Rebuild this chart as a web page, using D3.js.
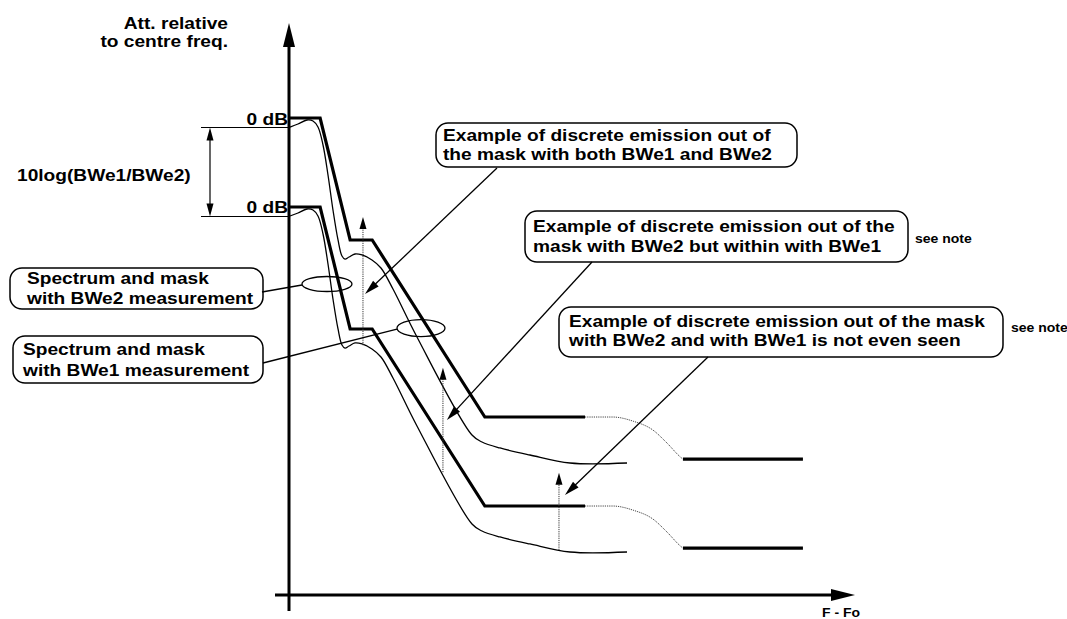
<!DOCTYPE html>
<html><head><meta charset="utf-8">
<script src="https://cdn.jsdelivr.net/npm/d3@7"></script>
<style>
html,body{margin:0;padding:0;background:#fff;}
svg text{font-family:"Liberation Sans",Arial,sans-serif;font-weight:bold;fill:#000;}
</style></head>
<body><svg id="c" width="1067" height="619"></svg>
<script>
// ---------- DATA (frequency units 0..100, attenuation in dB) ----------
const maskF  = [0, 5.5, 10.8, 14.7, 34.6, 52.3];
const maskDb = [0, 0, -20.56, -20.56, -50.4, -50.4];
const maskTransF  = [52.3, 57.2, 60.8, 64.3, 66.8, 69.1, 69.6];
const maskTransDb = [-50.4, -50.4, -51.1, -52.6, -54.8, -57.1, -57.5];
const maskFarF  = [69.6, 90.8];
const maskFarDb = [-57.5, -57.5];
const specF  = [0.18, 1.59, 3.18, 4.24, 5.12, 6.01, 6.89, 7.77, 8.66, 9.36, 9.89, 10.6, 11.66, 12.9, 14.66, 16.25, 18.37, 22.61, 32.33, 34.1, 37.28, 42.58, 49.65, 59.72];
const specDb = [-1.52, -1.01, -0.34, -0.51, -1.52, -4.55, -9.61, -15.51, -20.56, -23.26, -23.77, -23.43, -22.92, -23.09, -23.93, -25.28, -28.82, -36.91, -53.43, -54.61, -55.62, -56.8, -58.15, -58.15];
const bweOffsets = [0, -15];           // BWe1 curve (0 dB ref) and BWe2 curve (10log(BWe1/BWe2) lower)
const emissionF    = [13.07, 27.2, 47.7];
const emissionTop  = [-16.7, -42.1, -59.8];
const emissionBase = [-38.3, -59.7, -72.8];
const dimLevels = [-1.6, -16.6];
const axisYLabel = ["Att. relative", "to centre freq."];
const axisXLabel = "F - Fo";
const refLabels = ["0 dB", "0 dB"];
const dimLabel = "10log(BWe1/BWe2)";
const calloutTexts = [
  ["Example of discrete emission out of", "the mask with both BWe1 and BWe2"],
  ["Example of discrete emission out of the", " mask with BWe2 but within with BWe1"],
  ["Example of discrete emission out of the mask", "with BWe2 and with BWe1 is not even seen"],
  ["Spectrum and mask", "with BWe2 measurement"],
  ["Spectrum and mask", "with BWe1 measurement"]
];
const noteText = "see note";
// callout arrow targets (data units)
const arrowTipF  = [13.43, 27.9, 48.76];
const arrowTipDb = [-29.66, -50.9, -63.54];
const ellipseF  = [6.71, 23.32];
const ellipseDb = [-27.98, -35.4];

// ---------- LAYOUT ----------
const svg = d3.select("#c");
const x = d3.scaleLinear().domain([0, 100]).range([289, 855]);
const y = d3.scaleLinear().domain([0, -80]).range([118, 118 + 80 * 5.933]);
const SX = 1.12, FS = 17.1;

function txt(px, py, s, size, anchor) {
  svg.append("text").attr("transform", `translate(${px},${py}) scale(${SX},1)`)
    .attr("text-anchor", anchor || "start").style("font-size", size + "px").text(s);
}
function head(x1, y1, x2, y2, len, hw) {
  const a = Math.atan2(y2 - y1, x2 - x1);
  const bx = x2 - len * Math.cos(a), by = y2 - len * Math.sin(a);
  const nx = -Math.sin(a) * hw, ny = Math.cos(a) * hw;
  svg.append("path").attr("d", `M${x2},${y2}L${bx + nx},${by + ny}L${bx - nx},${by - ny}Z`).attr("fill", "#000");
}
function seg(x1, y1, x2, y2, w, dash) {
  const l = svg.append("line").attr("x1", x1).attr("y1", y1).attr("x2", x2).attr("y2", y2)
    .attr("stroke", "#000").attr("stroke-width", w);
  if (dash) l.attr("stroke-dasharray", dash);
  return l;
}

// axes
seg(x(0), 611, x(0), 40, 3);
head(x(0), 100, x(0), 23, 24, 6);
seg(275, 595, 840, 595, 3);
head(700, 595, 855, 595, 24, 6);

// masks, spectra
const lineLin = d3.line().x(d => x(d[0])).y(d => y(d[1]));
const lineCurve = d3.line().x(d => x(d[0])).y(d => y(d[1])).curve(d3.curveCatmullRom.alpha(0.5));
const lineMono = d3.line().x(d => x(d[0])).y(d => y(d[1])).curve(d3.curveMonotoneX);
bweOffsets.forEach(off => {
  svg.append("path").attr("d", lineLin(maskF.map((f, i) => [f, maskDb[i] + off])))
    .attr("fill", "none").attr("stroke", "#000").attr("stroke-width", 3.2).attr("stroke-linejoin", "miter");
  svg.append("path").attr("d", lineMono(maskTransF.map((f, i) => [f, maskTransDb[i] + off])))
    .attr("fill", "none").attr("stroke", "#444").attr("stroke-width", 1).attr("stroke-dasharray", "1.2,1");
  svg.append("path").attr("d", lineLin(maskFarF.map((f, i) => [f, maskFarDb[i] + off])))
    .attr("fill", "none").attr("stroke", "#000").attr("stroke-width", 3.2);
  svg.append("path").attr("d", lineCurve(specF.map((f, i) => [f, specDb[i] + off])))
    .attr("fill", "none").attr("stroke", "#000").attr("stroke-width", 1.3);
});

// discrete emissions
emissionF.forEach((f, i) => {
  seg(x(f), y(emissionBase[i]), x(f), y(emissionTop[i]) + 8, 1, "1.2,1").attr("stroke", "#333");
  head(x(f), y(emissionBase[i]), x(f), y(emissionTop[i]), 12, 3.5);
});

// dimension
dimLevels.forEach(l => seg(201, y(l), x(0), y(l), 1.2));
seg(210, y(dimLevels[0]) + 10, 210, y(dimLevels[1]) - 10, 1.2);
head(210, y(dimLevels[1]), 210, y(dimLevels[0]), 13, 3.5);
head(210, y(dimLevels[0]), 210, y(dimLevels[1]), 13, 3.5);
txt(17, 181, dimLabel, FS);

// axis labels
txt(228, 29, axisYLabel[0], FS, "end");
txt(228, 47, axisYLabel[1], FS, "end");
txt(288, 125, refLabels[0], FS, "end");
txt(288, 213, refLabels[1], FS, "end");
txt(822, 617, axisXLabel, 12.5);

// callout boxes
const boxes = [
  {x: 436, y: 123, w: 361, h: 44, tx: [443, 443], ty: [141, 160]},
  {x: 525, y: 211, w: 383, h: 51, tx: [533, 533], ty: [232, 252]},
  {x: 559, y: 307, w: 444, h: 50, tx: [569, 569], ty: [327, 346]},
  {x: 10, y: 268, w: 253, h: 41, tx: [27, 27], ty: [284, 304]},
  {x: 13, y: 336, w: 250, h: 47, tx: [23, 23], ty: [355, 376]}
];
boxes.forEach((b, i) => {
  svg.append("rect").attr("x", b.x).attr("y", b.y).attr("width", b.w).attr("height", b.h)
    .attr("rx", 12).attr("ry", 12).attr("fill", "#fff").attr("stroke", "#000").attr("stroke-width", 1.5);
  calloutTexts[i].forEach((t, j) => txt(b.tx[j], b.ty[j], t, FS));
});
txt(915, 243, noteText, 12.5);
txt(1011, 332, noteText, 12.5);

// callout arrows
const starts = [[497, 168], [592, 262], [708, 357]];
starts.forEach((s, i) => {
  const tx = x(arrowTipF[i]), ty = y(arrowTipDb[i]);
  const a = Math.atan2(ty - s[1], tx - s[0]);
  seg(s[0], s[1], tx - 10 * Math.cos(a), ty - 10 * Math.sin(a), 1.3);
  head(s[0], s[1], tx, ty, 15, 4);
});

// ellipses and their links
const ell = [{rx: 25, ry: 7.5, from: [262, 292]}, {rx: 24, ry: 8.5, from: [263, 363]}];
ell.forEach((e, i) => {
  const cx = x(ellipseF[i]), cy = y(ellipseDb[i]);
  svg.append("ellipse").attr("cx", cx).attr("cy", cy).attr("rx", e.rx).attr("ry", e.ry)
    .attr("fill", "none").attr("stroke", "#000").attr("stroke-width", 1.3);
  seg(e.from[0], e.from[1], cx - e.rx, cy + 1, 1.3);
});
</script></body></html>
